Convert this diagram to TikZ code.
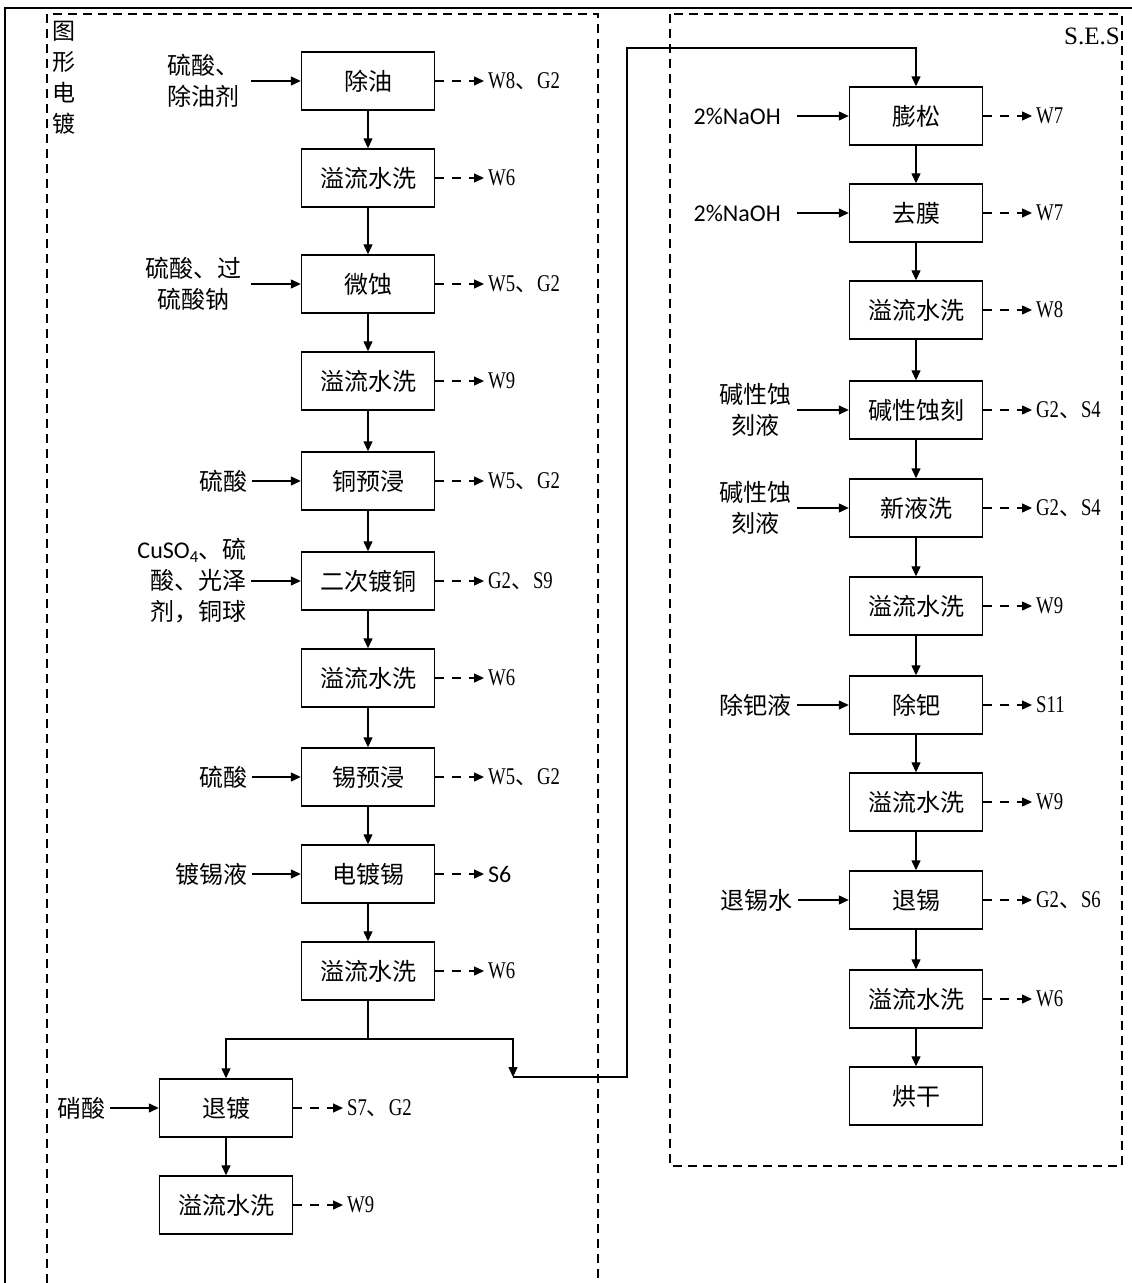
\documentclass[tikz,border=0pt]{standalone}
\usepackage{fontspec}
\usetikzlibrary{arrows.meta}
\newfontfamily\cjk{Noto Sans CJK SC}
\newfontfamily\ser[FakeStretch=0.78]{Liberation Serif}
\newfontfamily\serfull{Liberation Serif}
\newfontfamily\carl{Carlito}
\newcommand\olab[2]{{\ser #1}{\cjk\fontsize{22}{24}\selectfont 、}{\ser #2}}
\tikzset{
 box/.style={draw, line width=1.4pt, minimum width=133pt, minimum height=58pt, inner sep=0pt, font={\cjk\fontsize{24}{30}\selectfont}},
 flow/.style={line width=1.3pt, -{Triangle[length=10pt,width=9pt]}},
 outa/.style={line width=1.3pt, dash pattern=on 9pt off 8pt, -{Triangle[length=10pt,width=9pt]}},
 olbl/.style={anchor=west, inner xsep=4pt, inner ysep=0pt, font={\ser\fontsize{24}{28}\selectfont}},
 ilbl/.style={anchor=east, inner xsep=4pt, inner ysep=0pt, align=center, font={\cjk\fontsize{24}{31}\selectfont}},
 frame/.style={line width=1.3pt, dash pattern=on 9pt off 6pt},
}
\begin{document}
\begin{tikzpicture}[x=1pt,y=-1pt]
\useasboundingbox (0,0) rectangle (1132,1283);
% outer frame
\draw[line width=2pt] (5,1283) -- (5,7.5) -- (1132,7.5);
% dashed groups
\draw[frame] (47,1283) -- (47,14) -- (598,14) -- (598,1283);
\draw[frame] (670,14) rectangle (1122,1166);
\node[align=center, inner sep=0pt, font={\cjk\fontsize{23}{31}\selectfont}] (gl) at (64,78) {图\\形\\电\\镀};
\node[inner sep=0pt, font={\serfull\fontsize{25}{28}\selectfont}] (ses) at (1092,36) {S.E.S};

% left column
\node[box] (a1) at (368,81) {除油};
\node[box] (a2) at (368,178) {溢流水洗};
\node[box] (a3) at (368,284) {微蚀};
\node[box] (a4) at (368,381) {溢流水洗};
\node[box] (a5) at (368,481) {铜预浸};
\node[box] (a6) at (368,581) {二次镀铜};
\node[box] (a7) at (368,678) {溢流水洗};
\node[box] (a8) at (368,777) {锡预浸};
\node[box] (a9) at (368,874) {电镀锡};
\node[box] (a10) at (368,971) {溢流水洗};
\node[box] (b1) at (226,1108) {退镀};
\node[box] (b2) at (226,1205) {溢流水洗};

% right column
\node[box] (c1) at (916,116) {膨松};
\node[box] (c2) at (916,213) {去膜};
\node[box] (c3) at (916,310) {溢流水洗};
\node[box] (c4) at (916,410) {碱性蚀刻};
\node[box] (c5) at (916,508) {新液洗};
\node[box] (c6) at (916,606) {溢流水洗};
\node[box] (c7) at (916,705) {除钯};
\node[box] (c8) at (916,802) {溢流水洗};
\node[box] (c9) at (916,900) {退锡};
\node[box] (c10) at (916,999) {溢流水洗};
\node[box] (c11) at (916,1096) {烘干};

% main flow arrows
\foreach \p/\q in {a1/a2,a2/a3,a3/a4,a4/a5,a5/a6,a6/a7,a7/a8,a8/a9,a9/a10,b1/b2,
  c1/c2,c2/c3,c3/c4,c4/c5,c5/c6,c6/c7,c7/c8,c8/c9,c9/c10,c10/c11}
  \draw[flow] (\p.south) -- (\q.north);

\coordinate (j1) at (368,1039);
\coordinate (j2) at (513,1077);
\coordinate (k1) at (627,1077);
\coordinate (k2) at (627,48);
\draw[line width=1.3pt] (a10.south) -- (j1);
\draw[flow] (j1) -| (b1.north);
\draw[flow] (j1) -| (j2);
\draw[flow] (j2) -- (k1) -- (k2) -| (c1.north);

% outputs left
\node[olbl] (o1) at (484,81) {\olab{W8}{G2}};
\node[olbl] (o2) at (484,178) {W6};
\node[olbl] (o3) at (484,284) {\olab{W5}{G2}};
\node[olbl] (o4) at (484,381) {W9};
\node[olbl] (o5) at (484,481) {\olab{W5}{G2}};
\node[olbl] (o6) at (484,581) {\olab{G2}{S9}};
\node[olbl] (o7) at (484,678) {W6};
\node[olbl] (o8) at (484,777) {\olab{W5}{G2}};
\node[olbl, font={\carl\fontsize{24}{28}\selectfont}] (o9) at (484,874) {S6};
\node[olbl] (o10) at (484,971) {W6};
\node[olbl] (ob1) at (343,1108) {\olab{S7}{G2}};
\node[olbl] (ob2) at (343,1205) {W9};
\foreach \i in {1,...,10} \draw[outa] (a\i.east) -- (o\i.west);
\draw[outa] (b1.east) -- (ob1.west);
\draw[outa] (b2.east) -- (ob2.west);

% outputs right
\node[olbl] (p1) at (1032,116) {W7};
\node[olbl] (p2) at (1032,213) {W7};
\node[olbl] (p3) at (1032,310) {W8};
\node[olbl] (p4) at (1032,410) {\olab{G2}{S4}};
\node[olbl] (p5) at (1032,508) {\olab{G2}{S4}};
\node[olbl] (p6) at (1032,606) {W9};
\node[olbl] (p7) at (1032,705) {S11};
\node[olbl] (p8) at (1032,802) {W9};
\node[olbl] (p9) at (1032,900) {\olab{G2}{S6}};
\node[olbl] (p10) at (1032,999) {W6};
\foreach \i in {1,...,10} \draw[outa] (c\i.east) -- (p\i.west);

% inputs left
\node[ilbl, inner xsep=11pt] (i1) at (251,81) {硫酸、\\除油剂};
\node[ilbl, inner xsep=9pt] (i3) at (251,284) {硫酸、过\\硫酸钠};
\node[ilbl] (i5) at (252,481) {硫酸};
\node[ilbl, align=right] (i6) at (251,581) {{\carl CuSO\textsubscript{4}}、硫\\酸、光泽\\剂，铜球};
\node[ilbl] (i8) at (252,777) {硫酸};
\node[ilbl] (i9) at (252,874) {镀锡液};
\node[ilbl] (ib1) at (110,1108) {硝酸};
\foreach \i in {1,3,5,6,8,9} \draw[flow] (i\i.east) -- (a\i.west);
\draw[flow] (ib1.east) -- (b1.west);

% inputs right
\node[ilbl, inner xsep=16pt, font={\carl\fontsize{24}{28}\selectfont}] (j1n) at (797,116) {2\%NaOH};
\node[ilbl, inner xsep=16pt, font={\carl\fontsize{24}{28}\selectfont}] (j2n) at (797,213) {2\%NaOH};
\node[ilbl, inner xsep=5pt] (j4n) at (797,410) {碱性蚀\\刻液};
\node[ilbl, inner xsep=5pt] (j5n) at (797,508) {碱性蚀\\刻液};
\node[ilbl, inner xsep=5pt] (j7n) at (797,705) {除钯液};
\node[ilbl, inner xsep=5pt] (j9n) at (798,900) {退锡水};
\draw[flow] (j1n.east) -- (c1.west);
\draw[flow] (j2n.east) -- (c2.west);
\draw[flow] (j4n.east) -- (c4.west);
\draw[flow] (j5n.east) -- (c5.west);
\draw[flow] (j7n.east) -- (c7.west);
\draw[flow] (j9n.east) -- (c9.west);
\end{tikzpicture}
\end{document}
